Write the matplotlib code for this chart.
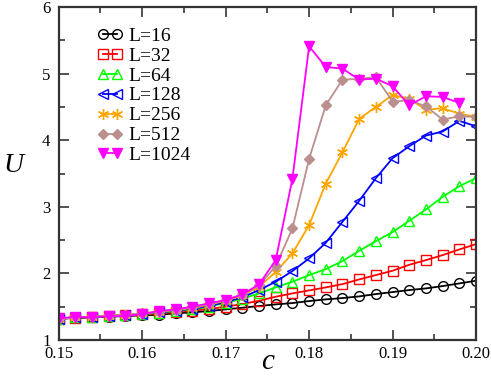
import numpy as np
import matplotlib
matplotlib.use("Agg")
import matplotlib.pyplot as plt
from matplotlib.ticker import MultipleLocator, FormatStrFormatter

plt.rcParams['font.family'] = ['Liberation Serif', 'DejaVu Serif']

# concentration c, step 0.002
c = [0.150, 0.152, 0.154, 0.156, 0.158, 0.160, 0.162, 0.164, 0.166, 0.168,
     0.170, 0.172, 0.174, 0.176, 0.178, 0.180, 0.182, 0.184, 0.186, 0.188,
     0.190, 0.192, 0.194, 0.196, 0.198, 0.200]

u_16 = [1.32, 1.33, 1.34, 1.35, 1.36, 1.37, 1.38, 1.40, 1.415, 1.435,
        1.46, 1.485, 1.51, 1.535, 1.555, 1.585, 1.61, 1.63, 1.655, 1.69,
        1.72, 1.75, 1.775, 1.81, 1.85, 1.89]
u_32 = [1.32, 1.335, 1.345, 1.36, 1.37, 1.385, 1.40, 1.42, 1.44, 1.465,
        1.50, 1.54, 1.59, 1.65, 1.70, 1.745, 1.79, 1.84, 1.91, 1.975,
        2.04, 2.13, 2.20, 2.275, 2.36, 2.44]
u_64 = [1.32, 1.34, 1.35, 1.36, 1.375, 1.39, 1.41, 1.435, 1.46, 1.50,
        1.56, 1.62, 1.70, 1.79, 1.875, 1.975, 2.065, 2.185, 2.34, 2.485,
        2.62, 2.79, 2.96, 3.15, 3.31, 3.43]
u_128 = [1.32, 1.34, 1.35, 1.36, 1.375, 1.395, 1.415, 1.44, 1.47, 1.51,
         1.57, 1.64, 1.75, 1.875, 2.035, 2.225, 2.46, 2.775, 3.09, 3.43,
         3.73, 3.91, 4.07, 4.13, 4.29, 4.21]
u_256 = [1.32, 1.34, 1.35, 1.365, 1.38, 1.40, 1.42, 1.45, 1.48, 1.53,
         1.59, 1.67, 1.80, 2.02, 2.30, 2.725, 3.35, 3.82, 4.32, 4.50,
         4.68, 4.62, 4.46, 4.48, 4.40, 4.35]
u_512 = [1.32, 1.34, 1.35, 1.365, 1.38, 1.40, 1.425, 1.455, 1.49, 1.54,
         1.60, 1.68, 1.82, 2.11, 2.675, 3.72, 4.525, 4.91, 4.92, 4.95,
         4.58, 4.60, 4.51, 4.31, 4.36, 4.35]
u_1024 = [1.325, 1.35, 1.34, 1.36, 1.36, 1.39, 1.435, 1.46, 1.50, 1.55,
          1.60, 1.685, 1.835, 2.20, 3.42, 5.41, 5.10, 5.075, 4.91, 4.925,
          4.81, 4.525, 4.66, 4.65, 4.56]

series = [
    ("L=16", u_16, "black", "o", False, 7),
    ("L=32", u_32, "red", "s", False, 6.5),
    ("L=64", u_64, "#00ff00", "^", False, 7),
    ("L=128", u_128, "blue", "<", False, 7),
    ("L=256", u_256, "orange", (6, 2, 0), True, 8),
    ("L=512", u_512, "#bc8f8f", "D", True, 5),
    ("L=1024", u_1024, "magenta", "v", True, 7.5),
]

fig = plt.figure(figsize=(4.91, 3.76), dpi=100)
ax = fig.add_axes([0.1196, 0.0957, 0.8499, 0.8856])

for label, vals, col, mk, filled, ms in series:
    ax.plot(c[:len(vals)], vals, color=col, lw=1.3, marker=mk, ms=ms,
            mfc=col if filled else "none", mec=col, mew=1.0, label=label)

ax.set_xlim(0.15, 0.20)
ax.set_ylim(1, 6)
ax.xaxis.set_major_locator(MultipleLocator(0.01))
ax.xaxis.set_minor_locator(MultipleLocator(0.005))
ax.yaxis.set_major_locator(MultipleLocator(1))
ax.yaxis.set_minor_locator(MultipleLocator(0.5))
ax.xaxis.set_major_formatter(FormatStrFormatter("%.2f"))
ax.tick_params(which="both", direction="in", top=True, right=True,
               labelsize=12, color="#333333", width=1.2)
ax.tick_params(which="major", length=7)
ax.tick_params(which="minor", length=4)
ax.tick_params(axis="x", which="major", pad=4)
ax.tick_params(axis="y", which="major", pad=6)
for t in ax.get_yticklabels():
    t.set_verticalalignment("center_baseline")
for sp in ax.spines.values():
    sp.set_linewidth(1.6)
    sp.set_color("#333333")

fig.text(0.545, 0.036, "c", fontsize=21, style="italic", ha="center", va="center")
fig.text(0.027, 0.56, "U", fontsize=20, style="italic", ha="center", va="center")

ax.legend(loc="upper left", bbox_to_anchor=(0.065, 0.975), frameon=False,
          numpoints=2, handlelength=1.3, handletextpad=0.3,
          labelspacing=0.12, fontsize=14, borderaxespad=0.2)

fig.savefig("out.png", dpi=100)
